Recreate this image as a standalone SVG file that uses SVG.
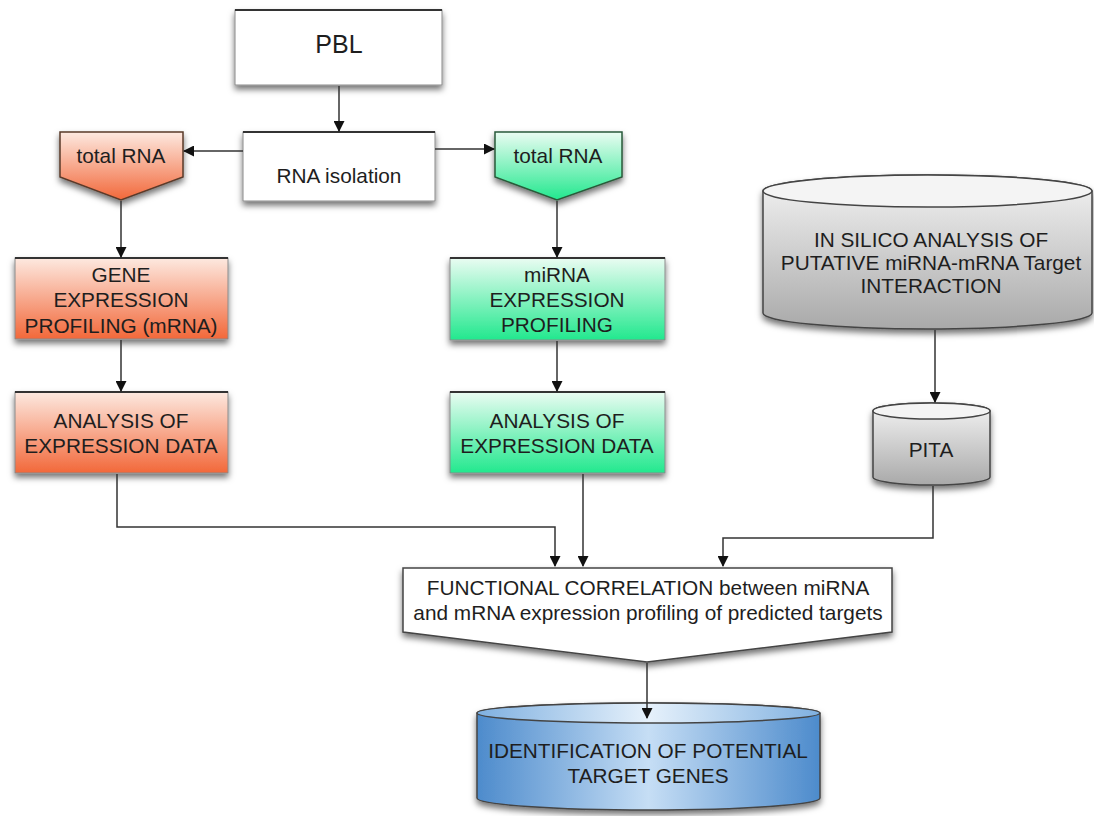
<svg xmlns="http://www.w3.org/2000/svg" width="1094" height="816" viewBox="0 0 1094 816">
<defs>
<linearGradient id="gOr" x1="0" y1="0" x2="0" y2="1"><stop offset="0" stop-color="#fde9e0"/><stop offset="1" stop-color="#f2683a"/></linearGradient>
<linearGradient id="gGr" x1="0" y1="0" x2="0" y2="1"><stop offset="0" stop-color="#eafcf2"/><stop offset="1" stop-color="#22e88e"/></linearGradient>
<linearGradient id="gGy" x1="0" y1="0" x2="0" y2="1"><stop offset="0" stop-color="#f4f4f4"/><stop offset="1" stop-color="#a9a9a9"/></linearGradient>
<linearGradient id="gBl" x1="0" y1="0" x2="1" y2="0"><stop offset="0" stop-color="#4d8bcc"/><stop offset="0.5" stop-color="#c6def5"/><stop offset="1" stop-color="#4d8bcc"/></linearGradient>
<linearGradient id="gBlTop" x1="0" y1="0" x2="1" y2="0"><stop offset="0" stop-color="#7fb0e0"/><stop offset="0.5" stop-color="#e6f1fb"/><stop offset="1" stop-color="#7fb0e0"/></linearGradient>
<filter id="sh" x="-10%" y="-10%" width="120%" height="140%"><feDropShadow dx="0" dy="4" stdDeviation="3" flood-color="#000" flood-opacity="0.55"/></filter>
<marker id="ar" markerWidth="11" markerHeight="11" refX="10" refY="5.5" orient="auto" markerUnits="userSpaceOnUse"><path d="M0,0 L11,5.5 L0,11 Z" fill="#111"/></marker>
<style>
text{font-family:"Liberation Sans",Arial,sans-serif;fill:#1e1e1e;text-anchor:middle;font-size:20.8px}
.box{stroke:#8a8a8a;stroke-width:1}
.top{stroke:#333;stroke-width:2}
.cyl{stroke:#444;stroke-width:1.5}
.con{fill:none;stroke:#333;stroke-width:1.5}
</style>
</defs>

<g id="pbl">
<rect class="box" x="235" y="10" width="207" height="75" fill="#fff" filter="url(#sh)"/>
<line class="top" x1="235" y1="10" x2="442" y2="10"/>
<text x="339" y="53" style="font-size:25px">PBL</text>
</g>

<g id="rna-isolation">
<rect class="box" x="243" y="132" width="192" height="69" fill="#fff" filter="url(#sh)"/>
<line class="top" x1="243" y1="132" x2="435" y2="132"/>
<text x="339" y="183">RNA isolation</text>
</g>

<g id="total-rna-left">
<polygon points="60,132 183,132 183,177 121,200 60,177" fill="url(#gOr)" stroke="#5a3a2a" stroke-width="1.5" filter="url(#sh)"/>
<text x="121" y="163">total RNA</text>
</g>

<g id="total-rna-right">
<polygon points="495,132 622,132 622,177 557,200 495,177" fill="url(#gGr)" stroke="#2a5a3a" stroke-width="1.5" filter="url(#sh)"/>
<text x="558" y="163">total RNA</text>
</g>

<g id="gene-expression">
<rect class="box" x="15" y="258" width="213" height="81" fill="url(#gOr)" filter="url(#sh)"/>
<line class="top" x1="15" y1="258" x2="228" y2="258"/>
<text x="121" y="282">GENE</text>
<text x="121" y="307">EXPRESSION</text>
<text x="121" y="333">PROFILING (mRNA)</text>
</g>

<g id="analysis-left">
<rect class="box" x="15" y="392" width="213" height="81" fill="url(#gOr)" filter="url(#sh)"/>
<line class="top" x1="15" y1="392" x2="228" y2="392"/>
<text x="121" y="428">ANALYSIS OF</text>
<text x="121" y="453">EXPRESSION DATA</text>
</g>

<g id="mirna-expression">
<rect class="box" x="450" y="258" width="215" height="82" fill="url(#gGr)" filter="url(#sh)"/>
<line class="top" x1="450" y1="258" x2="665" y2="258"/>
<text x="557" y="282">miRNA</text>
<text x="557" y="307">EXPRESSION</text>
<text x="557" y="332">PROFILING</text>
</g>

<g id="analysis-mid">
<rect class="box" x="450" y="392" width="215" height="81" fill="url(#gGr)" filter="url(#sh)"/>
<line class="top" x1="450" y1="392" x2="665" y2="392"/>
<text x="557" y="428">ANALYSIS OF</text>
<text x="557" y="453">EXPRESSION DATA</text>
</g>

<g id="in-silico">
<path class="cyl" d="M763,191 A164.5,16 0 0 1 1092,191 L1092,313 A164.5,16 0 0 1 763,313 Z" fill="url(#gGy)" filter="url(#sh)"/>
<ellipse class="cyl" cx="927.5" cy="191" rx="164.5" ry="16" fill="#f4f4f4"/>
<text x="931" y="247">IN SILICO ANALYSIS OF</text>
<text x="931" y="270">PUTATIVE miRNA-mRNA Target</text>
<text x="931" y="293">INTERACTION</text>
</g>

<g id="pita">
<path class="cyl" d="M873,411 A58.5,8 0 0 1 990,411 L990,477 A58.5,8 0 0 1 873,477 Z" fill="url(#gGy)" filter="url(#sh)"/>
<ellipse class="cyl" cx="931.5" cy="411" rx="58.5" ry="8" fill="#f4f4f4"/>
<text x="931" y="457">PITA</text>
</g>

<g id="functional-correlation">
<polygon points="403,568 892,568 892,632 647,662 403,632" fill="#fff" stroke="#444" stroke-width="1.5" filter="url(#sh)"/>
<text x="648" y="595">FUNCTIONAL CORRELATION between miRNA</text>
<text x="648" y="620">and mRNA expression profiling of predicted targets</text>
</g>

<g id="identification">
<path class="cyl" d="M477,713 A171.5,10 0 0 1 820,713 L820,798 A171.5,12 0 0 1 477,798 Z" fill="url(#gBl)" filter="url(#sh)"/>
<ellipse class="cyl" cx="648.5" cy="713" rx="171.5" ry="10" fill="url(#gBlTop)"/>
<text x="648" y="758">IDENTIFICATION OF POTENTIAL</text>
<text x="648" y="783">TARGET GENES</text>
</g>

<g id="connectors">
<path class="con" d="M339,86 V131" marker-end="url(#ar)"/>
<path class="con" d="M243,151 H184" marker-end="url(#ar)"/>
<path class="con" d="M435,149 H494" marker-end="url(#ar)"/>
<path class="con" d="M121,201 V257" marker-end="url(#ar)"/>
<path class="con" d="M557,201 V257" marker-end="url(#ar)"/>
<path class="con" d="M121,340 V391" marker-end="url(#ar)"/>
<path class="con" d="M557,341 V391" marker-end="url(#ar)"/>
<path class="con" d="M117,474 V527 H555 V566" marker-end="url(#ar)"/>
<path class="con" d="M583,474 V566" marker-end="url(#ar)"/>
<path class="con" d="M935,330 V402" marker-end="url(#ar)"/>
<path class="con" d="M933,486 V538 H723 V566" marker-end="url(#ar)"/>
<path class="con" d="M647,663 V718" marker-end="url(#ar)"/>
</g>
</svg>
